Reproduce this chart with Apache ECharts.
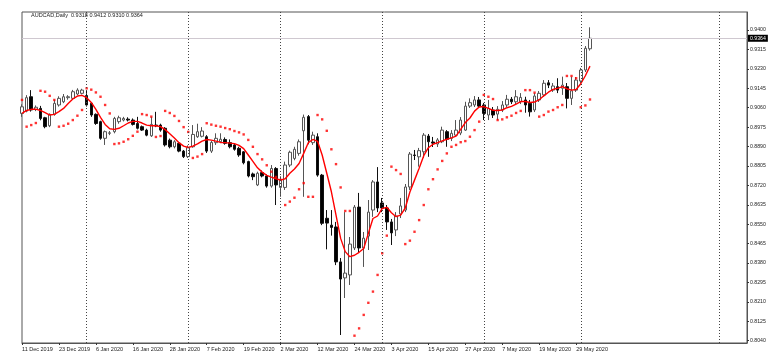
<!DOCTYPE html>
<html><head><meta charset="utf-8">
<script src="https://cdn.jsdelivr.net/npm/echarts@6/dist/echarts.min.js"></script>
<style>html,body{margin:0;padding:0;background:#fff}#c{width:769px;height:359px}</style>
</head><body><div id="c"></div>
<script>
const symbolName = 'AUDCAD,Daily';
const dates = ['11 Dec 2019','12 Dec 2019','13 Dec 2019','16 Dec 2019','17 Dec 2019','18 Dec 2019','19 Dec 2019','20 Dec 2019','23 Dec 2019','24 Dec 2019','26 Dec 2019','27 Dec 2019','30 Dec 2019','31 Dec 2019',
'2 Jan 2020','3 Jan 2020','6 Jan 2020','7 Jan 2020','8 Jan 2020','9 Jan 2020','10 Jan 2020','13 Jan 2020','14 Jan 2020','15 Jan 2020','16 Jan 2020','17 Jan 2020','20 Jan 2020','21 Jan 2020','22 Jan 2020','23 Jan 2020','24 Jan 2020','27 Jan 2020','28 Jan 2020','29 Jan 2020','30 Jan 2020','31 Jan 2020',
'3 Feb 2020','4 Feb 2020','5 Feb 2020','6 Feb 2020','7 Feb 2020','10 Feb 2020','11 Feb 2020','12 Feb 2020','13 Feb 2020','14 Feb 2020','17 Feb 2020','18 Feb 2020','19 Feb 2020','20 Feb 2020','21 Feb 2020','24 Feb 2020','25 Feb 2020','26 Feb 2020','27 Feb 2020','28 Feb 2020',
'2 Mar 2020','3 Mar 2020','4 Mar 2020','5 Mar 2020','6 Mar 2020','9 Mar 2020','10 Mar 2020','11 Mar 2020','12 Mar 2020','13 Mar 2020','16 Mar 2020','17 Mar 2020','18 Mar 2020','19 Mar 2020','20 Mar 2020','23 Mar 2020','24 Mar 2020','25 Mar 2020','26 Mar 2020','27 Mar 2020','30 Mar 2020','31 Mar 2020',
'1 Apr 2020','2 Apr 2020','3 Apr 2020','6 Apr 2020','7 Apr 2020','8 Apr 2020','9 Apr 2020','10 Apr 2020','13 Apr 2020','14 Apr 2020','15 Apr 2020','16 Apr 2020','17 Apr 2020','20 Apr 2020','21 Apr 2020','22 Apr 2020','23 Apr 2020','24 Apr 2020','27 Apr 2020','28 Apr 2020','29 Apr 2020','30 Apr 2020',
'1 May 2020','4 May 2020','5 May 2020','6 May 2020','7 May 2020','8 May 2020','11 May 2020','12 May 2020','13 May 2020','14 May 2020','15 May 2020','18 May 2020','19 May 2020','20 May 2020','21 May 2020','22 May 2020','25 May 2020','26 May 2020','27 May 2020','28 May 2020','29 May 2020',
'1 Jun 2020','2 Jun 2020','3 Jun 2020'];
const opens = [.9035,.9045,.9108,.9052,.9057,.9016,.8981,.9031,.9072,.9086,.9104,.9101,.9120,.9123,
.9113,.9079,.9031,.8999,.8926,.8948,.8955,.8999,.9006,.9010,.9006,.8991,.8977,.8962,.8937,.8984,.8984,.8970,.8918,.8889,.8904,.8870,
.8846,.8889,.8933,.8935,.8933,.8870,.8907,.8911,.8921,.8907,.8897,.8882,.8867,.8824,.8770,.8722,.8776,.8761,.8717,.8794,
.8711,.8711,.8809,.8838,.8860,.8959,.9021,.8907,.8933,.8765,.8576,.8546,.8538,.8385,.8315,.8328,.8446,.8625,.8446,.8498,.8612,.8735,
.8643,.8621,.8560,.8525,.8595,.8612,.8713,.8853,.8845,.8867,.8936,.8910,.8901,.8911,.8955,.8926,.8940,.8949,.8962,.9067,.9072,.9094,
.9072,.9028,.9050,.9032,.9050,.9072,.9097,.9086,.9086,.9094,.9079,.9050,.9094,.9116,.9169,.9137,.9152,.9145,.9152,.9101,.9137,
.9177,.9225,.9318];
const closes = [.9064,.9104,.9050,.9062,.9013,.8977,.9031,.9079,.9101,.9108,.9108,.9130,.9137,.9137,
.9072,.9028,.8991,.8926,.8955,.8950,.9013,.9016,.9013,.9006,.8987,.8970,.8962,.8940,.8987,.8980,.8962,.8897,.8889,.8911,.8870,.8846,
.8885,.8943,.8955,.8958,.8870,.8908,.8926,.8922,.8904,.8889,.8878,.8853,.8819,.8761,.8758,.8773,.8761,.8717,.8794,.8722,
.8743,.8809,.8865,.8878,.8911,.9018,.8918,.8940,.8765,.8554,.8555,.8536,.8385,.8310,.8336,.8463,.8625,.8446,.8489,.8603,.8735,.8621,
.8621,.8560,.8512,.8586,.8630,.8713,.8857,.8851,.8872,.8940,.8911,.8905,.8919,.8962,.8922,.8948,.8962,.9006,.9067,.9082,.9094,.9067,
.9035,.9057,.9028,.9053,.9072,.9097,.9086,.9108,.9105,.9072,.9042,.9111,.9123,.9167,.9159,.9155,.9137,.9159,.9101,.9134,.9181,
.9225,.9320,.9364];
const lows = [.9020,.9040,.9043,.9045,.9005,.8970,.8975,.9025,.9065,.9080,.9095,.9095,.9115,.9118,
.9065,.9020,.8985,.8920,.8897,.8940,.8948,.8990,.9000,.9000,.8982,.8965,.8958,.8935,.8932,.8975,.8955,.8890,.8882,.8882,.8865,.8840,
.8840,.8885,.8928,.8930,.8862,.8862,.8897,.8905,.8898,.8882,.8872,.8845,.8812,.8755,.8743,.8717,.8755,.8710,.8710,.8634,
.8670,.8700,.8800,.8830,.8850,.8670,.8900,.8897,.8758,.8546,.8440,.8500,.8371,.8065,.8227,.8284,.8437,.8428,.8363,.8437,.8582,.8603,
.8603,.8525,.8459,.8498,.8577,.8603,.8700,.8831,.8802,.8840,.8845,.8888,.8888,.8905,.8889,.8914,.8932,.8940,.8958,.9059,.9063,.9059,
.9006,.9006,.9015,.9006,.9041,.9063,.9076,.9076,.9076,.9038,.9021,.9041,.9085,.9107,.9146,.9129,.9124,.9116,.9057,.9072,.9129,
.9168,.9216,.9310];
const highs = [.9075,.9115,.9137,.9070,.9068,.9020,.9035,.9095,.9110,.9120,.9115,.9138,.9145,.9143,
.9135,.9085,.9035,.9003,.8960,.8958,.9020,.9025,.9020,.9018,.9013,.9020,.8982,.8968,.9020,.9042,.8990,.8975,.8925,.8918,.8910,.8875,
.8895,.8984,.8990,.8975,.8940,.8915,.8948,.8948,.8930,.8921,.8904,.8889,.8870,.8828,.8776,.8780,.8785,.8768,.8809,.8800,
.8760,.8824,.8872,.8889,.8921,.9030,.9028,.8955,.8948,.8770,.8612,.8612,.8560,.8402,.8603,.8494,.8634,.8687,.8516,.8656,.8743,.8800,
.8665,.8634,.8573,.8603,.8665,.8726,.8866,.8875,.8884,.8949,.8945,.8932,.8927,.8977,.8962,.8962,.9006,.9019,.9086,.9101,.9111,.9107,
.9081,.9094,.9063,.9067,.9089,.9116,.9107,.9137,.9124,.9108,.9094,.9124,.9133,.9181,.9181,.9168,.9189,.9196,.9168,.9196,.9194,
.9234,.9330,.9412];
const maValues = [.9035,.9048,.9053,.9054,.9048,.9038,.9028,.9031,.9043,.9057,.9078,.9098,.9111,.9114,
.9104,.9083,.9053,.9018,.8987,.8968,.8965,.8970,.8981,.8993,.9000,.9000,.8993,.8984,.8981,.8981,.8977,.8964,.8946,.8927,.8907,.8892,
.8886,.8892,.8902,.8914,.8921,.8918,.8914,.8908,.8907,.8905,.8903,.8895,.8881,.8853,.8825,.8797,.8778,.8764,.8756,.8749,
.8743,.8749,.8773,.8792,.8816,.8860,.8907,.8921,.8913,.8853,.8773,.8692,.8590,.8488,.8430,.8408,.8414,.8427,.8444,.8510,.8575,.8586,
.8619,.8624,.8600,.8583,.8590,.8621,.8691,.8743,.8795,.8850,.8885,.8900,.8907,.8915,.8922,.8928,.8936,.8965,.8995,.9015,.9045,.9063,
.9065,.9057,.9049,.9048,.9050,.9060,.9066,.9076,.9087,.9087,.9083,.9085,.9095,.9112,.9128,.9140,.9145,.9152,.9143,.9137,.9140,
.9165,.9200,.9242];
const sarValues = [.9094,.8977,.8984,.8993,.9134,.9130,.9112,.9094,.8977,.8981,.8990,.9006,.9025,.9050,
.9145,.9139,.9127,.9108,.9072,.9035,.8901,.8904,.8911,.8922,.8937,.8955,.9032,.9028,.9021,.8932,.8936,.9046,.9037,.9024,.9002,.8975,
.8954,.8840,.8846,.8857,.8992,.8986,.8981,.8977,.8971,.8966,.8958,.8952,.8943,.8919,.8889,.8857,.8834,.8808,.8780,.8757,
.8744,.8634,.8649,.8666,.8703,.8730,.8670,.8670,.9028,.9009,.8959,.8878,.8813,.8711,.8608,.8608,.8062,.8094,.8153,.8206,.8255,.8328,
.8423,.8500,.8802,.8787,.8770,.8463,.8478,.8517,.8568,.8634,.8703,.8747,.8790,.8827,.8860,.8889,.8897,.8909,.8914,.8933,.8962,.8999,
.9116,.9108,.9098,.9006,.9009,.9018,.9025,.9037,.9046,.9137,.9137,.9126,.9021,.9028,.9043,.9050,.9062,.9072,.9199,.9199,.9189,
.9062,.9070,.9096];
const priceTicks = [0.9400,0.9315,0.9230,0.9145,0.9060,0.8975,0.8890,0.8805,0.8720,0.8635,0.8550,0.8465,0.8380,0.8295,0.8210,0.8125,0.8040];
const separatorIdx = [14,36,56,78,100,121,151];
const futureSlots = 34;

const cats = dates.concat(Array.from({length: futureSlots}, (_, k) => ' '.repeat(k + 1)));
const candles = dates.map((d, i) => [opens[i], closes[i], lows[i], highs[i]]);
const n = dates.length;
const last = n - 1;
const f4 = v => v.toFixed(4);
const showLabel = (i) => i % 8 === 0 && i <= 120;
const FONT = 'Liberation Sans';

const chart = echarts.init(document.getElementById('c'), null, {renderer: 'canvas'});
chart.setOption({
  animation: false,
  backgroundColor: '#fff',
  title: {
    text: symbolName + '  ' + f4(opens[last]) + ' ' + f4(highs[last]) + ' ' + f4(lows[last]) + ' ' + f4(closes[last]),
    left: 31, top: 12, padding: 0,
    textStyle: {fontSize: 5.5, fontWeight: 'normal', color: '#222', fontFamily: FONT}
  },
  grid: {left: 22, right: 22, top: 12, bottom: 16, show: true, borderColor: '#555', borderWidth: 1},
  xAxis: {
    type: 'category', data: cats, boundaryGap: false,
    axisLine: {show: true, lineStyle: {color: '#555', width: 1}},
    axisTick: {show: true, interval: showLabel, length: 2, lineStyle: {color: '#333'}},
    axisLabel: {interval: showLabel, align: 'left', fontSize: 5.5, color: '#222', margin: 3, fontFamily: FONT},
    splitLine: {show: false}
  },
  yAxis: {
    type: 'value', position: 'right', min: 0.8030, max: 0.9479,
    axisLine: {show: true, lineStyle: {color: '#555', width: 1}},
    axisTick: {show: true, customValues: priceTicks, length: 2, lineStyle: {color: '#333'}},
    axisLabel: {customValues: priceTicks, formatter: v => f4(v), fontSize: 5.2, color: '#222', margin: 3, fontFamily: FONT},
    splitLine: {show: false}
  },
  series: [
    {
      type: 'candlestick', data: candles, barWidth: 3, z: 2,
      itemStyle: {color: '#ffffff', color0: '#000000', borderColor: '#555555', borderColor0: '#111111', borderWidth: 1},
      markLine: {
        silent: true, symbol: ['none', 'none'], animation: false, precision: 4,
        lineStyle: {color: '#cfc8d0', width: 1, type: 'solid'},
        label: {show: true, position: 'end', distance: 1, formatter: () => f4(closes[last]),
          backgroundColor: '#000', color: '#fff', fontSize: 5.2, padding: [1, 2], fontFamily: FONT},
        data: [{yAxis: closes[last]}]
      }
    },
    {
      type: 'line', data: maValues, showSymbol: false, z: 3,
      lineStyle: {color: '#ff0000', width: 1.4}
    },
    {
      type: 'scatter', data: sarValues, symbol: 'rect', symbolSize: 2.4, z: 4,
      itemStyle: {color: '#ff0000'},
      markLine: {
        silent: true, symbol: ['none', 'none'], animation: false, precision: 0,
        lineStyle: {color: '#444', width: 1, type: [1, 2]},
        label: {show: false},
        data: separatorIdx.map(i => ({xAxis: i}))
      }
    }
  ]
});
</script>
</body></html>
